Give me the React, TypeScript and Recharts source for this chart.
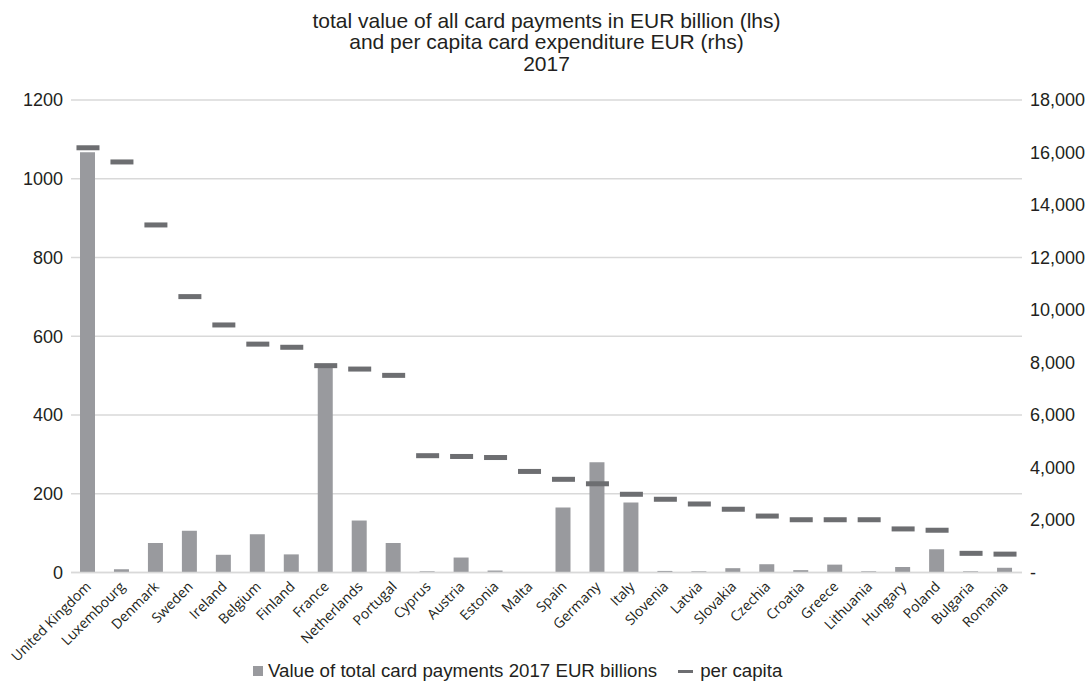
import React from "react";
import {
  ComposedChart,
  Bar,
  Line,
  XAxis,
  YAxis,
  CartesianGrid,
  Legend,
} from "recharts";

// Countries in the order shown on the category axis
const countries = [
  "United Kingdom", "Luxembourg", "Denmark", "Sweden", "Ireland", "Belgium",
  "Finland", "France", "Netherlands", "Portugal", "Cyprus", "Austria",
  "Estonia", "Malta", "Spain", "Germany", "Italy", "Slovenia", "Latvia",
  "Slovakia", "Czechia", "Croatia", "Greece", "Lithuania", "Hungary",
  "Poland", "Bulgaria", "Romania",
];

// Value of total card payments 2017, EUR billions (left axis)
const totalPayments = [
  1067, 8, 75, 106, 45, 97, 46, 525, 132, 75, 3, 38, 5, 1, 165, 280, 178,
  4, 3, 11, 21, 6, 20, 3, 14, 59, 3, 12,
];

// Per capita card expenditure, EUR (right axis)
const perCapita = [
  16180, 15640, 13240, 10510, 9430, 8700, 8580, 7880, 7750, 7510, 4450,
  4420, 4380, 3850, 3550, 3380, 2980, 2790, 2610, 2410, 2150, 2010, 2010,
  2010, 1660, 1610, 730, 700,
];

const leftTicks = [0, 200, 400, 600, 800, 1000, 1200];
const rightTicks = [0, 2000, 4000, 6000, 8000, 10000, 12000, 14000, 16000, 18000];

const titleLines = [
  "total value of all card payments in EUR billion (lhs)",
  "and per capita card expenditure EUR (rhs)",
  "2017",
];

const barName = "Value of total card payments 2017 EUR billions";
const lineName = "per capita";

const data = countries.map((country, i) => ({
  country,
  total: totalPayments[i],
  perCapita: perCapita[i],
}));

const WIDTH = 1088;
const HEIGHT = 683;
const BAR_COLOR = "#999a9e";
const DASH_COLOR = "#6d6e71";
const GRID_COLOR = "#d9d9d9";
const TEXT_COLOR = "#231f20";
const SANS = "'Liberation Sans', Arial, Helvetica, sans-serif";

const CountryTick = (props: any) => {
  const { x, y, payload } = props;
  return (
    <g transform={`translate(${x + 4},${y + 7}) rotate(-45)`}>
      <text
        x={0}
        y={0}
        textAnchor="end"
        fontFamily="'Open Sans', sans-serif"
        fontSize={14}
        fill={TEXT_COLOR}
      >
        {payload.value}
      </text>
    </g>
  );
};

const PerCapitaDash = (props: any) => {
  const { cx, cy, index } = props;
  if (cx == null || cy == null) return <g key={`d-${index}`} />;
  return (
    <rect
      key={`d-${index}`}
      x={cx - 11.5}
      y={cy - 2.5}
      width={23}
      height={5}
      fill={DASH_COLOR}
    />
  );
};

const LegendContent = () => (
  <div
    style={{
      display: "flex",
      alignItems: "center",
      height: 24,
      fontFamily: SANS,
      fontSize: 18.7,
      color: TEXT_COLOR,
      whiteSpace: "nowrap",
    }}
  >
    <span style={{ display: "inline-block", width: 10, height: 10, background: BAR_COLOR, marginRight: 5 }} />
    <span>{barName}</span>
    <span style={{ display: "inline-block", width: 15, height: 3, background: DASH_COLOR, marginLeft: 21, marginRight: 7 }} />
    <span>{lineName}</span>
  </div>
);

export default function App() {
  return (
    <div style={{ position: "absolute", top: 0, left: 0, width: WIDTH, height: HEIGHT, overflow: "hidden" }}>
      <div
        style={{
          position: "absolute",
          top: 9.5,
          left: 71,
          width: 951,
          textAlign: "center",
          fontFamily: SANS,
          fontSize: 21,
          lineHeight: "21.5px",
          color: TEXT_COLOR,
        }}
      >
        {titleLines.map((t) => (
          <div key={t}>{t}</div>
        ))}
      </div>
      <ComposedChart
        width={WIDTH}
        height={HEIGHT}
        data={data}
        margin={{ top: 100, right: 0, left: 0, bottom: 0 }}
        barCategoryGap={0}
      >
        <CartesianGrid
          yAxisId="left"
          vertical={false}
          stroke={GRID_COLOR}
          strokeWidth={1.5}
        />
        <XAxis
          dataKey="country"
          interval={0}
          tickLine={false}
          axisLine={{ stroke: GRID_COLOR, strokeWidth: 1.5 }}
          height={86.5}
          tick={<CountryTick />}
        />
        <YAxis
          yAxisId="left"
          domain={[0, 1200]}
          ticks={leftTicks}
          axisLine={false}
          tickLine={false}
          width={71}
          tick={{ fontSize: 18, fill: TEXT_COLOR, fontFamily: SANS }}
        />
        <YAxis
          yAxisId="right"
          orientation="right"
          domain={[0, 18000]}
          ticks={rightTicks}
          axisLine={false}
          tickLine={false}
          width={66}
          tick={{ fontSize: 18, fill: TEXT_COLOR, fontFamily: SANS }}
          tickFormatter={(v: number) => (v === 0 ? "-" : v.toLocaleString("en-US"))}
        />
        <Bar
          yAxisId="left"
          dataKey="total"
          name={barName}
          fill={BAR_COLOR}
          barSize={15}
          isAnimationActive={false}
        />
        <Line
          yAxisId="right"
          dataKey="perCapita"
          name={lineName}
          stroke="none"
          strokeWidth={0}
          dot={PerCapitaDash}
          activeDot={false}
          isAnimationActive={false}
        />
        <Legend
          verticalAlign="bottom"
          height={24}
          content={LegendContent}
          wrapperStyle={{ left: 253, width: "auto", height: 24 }}
        />
      </ComposedChart>
    </div>
  );
}
